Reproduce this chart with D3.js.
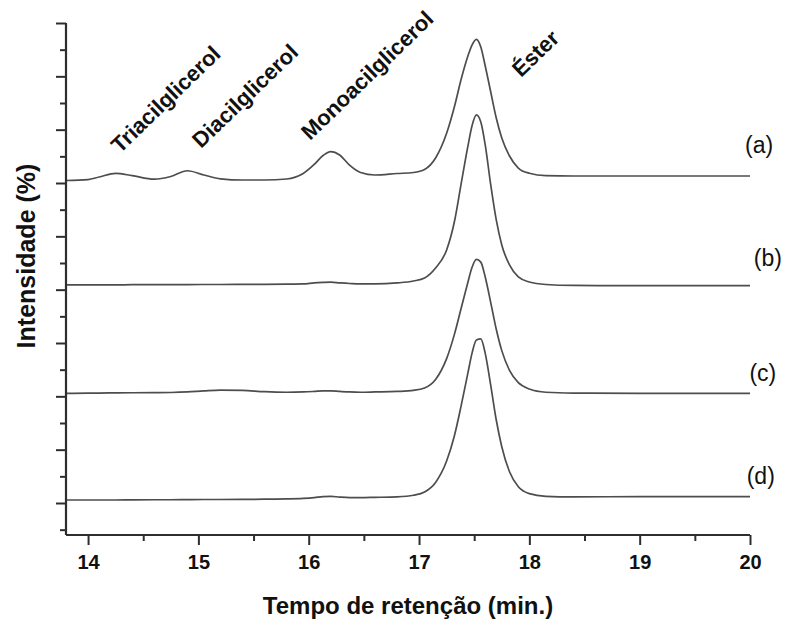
<!DOCTYPE html>
<html>
<head>
<meta charset="utf-8">
<script src="https://cdn.jsdelivr.net/npm/d3@7"></script>
<style>
  html, body { margin: 0; padding: 0; background: #fff; }
  svg { display: block; font-family: "Liberation Sans", Arial, sans-serif; }
</style>
</head>
<body>
<svg id="chart" width="786" height="621"></svg>
<script>
// Retention time grid (min)
const times = [13.8, 14.0, 14.1, 14.25, 14.4, 14.6, 14.75, 14.9, 15.05, 15.2, 15.4, 15.6, 15.8,
  15.95, 16.05, 16.13, 16.2, 16.28, 16.37, 16.47, 16.6, 16.8, 16.95, 17.05, 17.15, 17.25, 17.32,
  17.38, 17.44, 17.48, 17.52, 17.56, 17.6, 17.65, 17.7, 17.75, 17.82, 17.9, 18.0, 18.15, 18.4,
  19.0, 19.5, 20.0];

// Detector signal of each chromatogram above its own baseline
const signalA = [-0.09, 0.09, 0.56, 1.26, 0.81, 0.15, 0.66, 1.74, 0.94, 0.22, 0.0, 0.0, 0.19,
  1.22, 2.91, 4.59, 5.31, 4.69, 2.81, 1.41, 0.94, 1.22, 1.41, 1.97, 4.13, 8.76, 13.69,
  18.75, 23.06, 25.31, 26.38, 24.94, 21.38, 16.5, 11.63, 7.88, 4.5, 2.25, 1.26, 0.81, 0.75,
  0.75, 0.75, 0.75];
const signalB = [0, 0, 0, 0, 0.05, 0.05, 0.05, 0.08, 0.09, 0.09, 0.12, 0.13, 0.15,
  0.19, 0.38, 0.47, 0.52, 0.4, 0.28, 0.19, 0.19, 0.38, 0.75, 1.31, 3.19, 6.56, 11.81,
  18.75, 25.69, 29.81, 31.88, 30.56, 26.25, 18.75, 12.19, 7.5, 3.75, 1.5, 0.56, 0.09, -0.09,
  -0.13, -0.13, -0.13];
const signalC = [0, 0.05, 0.05, 0.08, 0.1, 0.12, 0.15, 0.25, 0.45, 0.6, 0.55, 0.3, 0.2,
  0.25, 0.35, 0.45, 0.45, 0.35, 0.25, 0.2, 0.25, 0.35, 0.55, 1.0, 2.6, 6.5, 11.0,
  15.8, 20.6, 23.6, 25.1, 24.6, 21.8, 17.0, 12.0, 8.0, 4.3, 2.0, 0.8, 0.2, 0.05,
  0, 0, 0];
const signalD = [0, 0, 0, 0, 0.03, 0.05, 0.05, 0.08, 0.1, 0.1, 0.12, 0.15, 0.2,
  0.3, 0.45, 0.65, 0.7, 0.55, 0.45, 0.45, 0.5, 0.6, 0.9, 1.5, 3.3, 7.3, 12.0,
  17.5, 23.5, 27.5, 30.0, 30.2, 27.5, 21.5, 15.0, 10.0, 5.3, 2.5, 1.2, 0.7, 0.6,
  0.62, 0.62, 0.62];

// Vertical offset of each stacked chromatogram
const offsets = [70.56, 50.88, 30.57, 10.56];
const traceNames = ["(a)", "(b)", "(c)", "(d)"];
const traceNameTimes = [19.955, 20.035, 19.995, 19.97];
const traceNameValues = [75.7, 54.4, 32.9, 13.6];

// Compound annotations
const peakNames = ["Triacilglicerol", "Diacilglicerol", "Monoacilglicerol", "Éster"];
const peakNameTimes = [14.289, 15.024, 16.012, 17.924];
const peakNameValues = [75.44, 76.38, 77.88, 89.69];

// Axis ticks
const xMajorTicks = [14, 15, 16, 17, 18, 19, 20];
const xMinorTicks = [14.5, 15.5, 16.5, 17.5, 18.5, 19.5];
const yMajorTicks = [10, 20, 30, 40, 50, 60, 70, 80, 90, 100];
const yMinorTicks = [5, 15, 25, 35, 45, 55, 65, 75, 85, 95];

const svg = d3.select("#chart");
const x = d3.scaleLinear().domain([13.8, 20]).range([66, 750]);
const y = d3.scaleLinear().domain([4, 100]).range([535, 23]);

const axisColor = "#2e2e2e";
const lineColor = "#4d4d4d";

// Chromatogram traces
const signals = [signalA, signalB, signalC, signalD];
const line = d3.line()
  .x(d => x(d.t))
  .y(d => y(d.v))
  .curve(d3.curveMonotoneX);

svg.append("g")
  .selectAll("path")
  .data(signals.map((s, i) => times.map((t, k) => ({ t, v: offsets[i] + s[k] }))))
  .join("path")
  .attr("d", line)
  .attr("fill", "none")
  .attr("stroke", lineColor)
  .attr("stroke-width", 1.7)
  .attr("stroke-linejoin", "round");

// X axis
const xAxis = svg.append("g").attr("transform", "translate(0,535)");
xAxis.call(d3.axisBottom(x).tickValues(xMajorTicks).tickSize(10).tickPadding(10).tickFormat(d3.format("d")));
xAxis.append("g").call(d3.axisBottom(x).tickValues(xMinorTicks).tickSize(6).tickFormat(""))
  .select(".domain").remove();
xAxis.selectAll(".domain").attr("stroke", axisColor).attr("stroke-width", 2.2)
  .attr("d", `M${x(13.8)},0H${x(20)}`);
xAxis.selectAll(".tick line").attr("stroke", axisColor).attr("stroke-width", 2);
xAxis.selectAll(".tick text")
  .attr("fill", "#111")
  .style("font-size", "20px")
  .style("font-weight", "bold")
  .style("font-family", "'Liberation Sans', Arial, sans-serif");

// Y axis (unlabelled ticks)
const yAxis = svg.append("g").attr("transform", "translate(66,0)");
yAxis.call(d3.axisLeft(y).tickValues(yMajorTicks).tickSize(10).tickFormat(""));
yAxis.append("g").call(d3.axisLeft(y).tickValues(yMinorTicks).tickSize(6).tickFormat(""))
  .select(".domain").remove();
yAxis.selectAll(".domain").attr("stroke", axisColor).attr("stroke-width", 2.2)
  .attr("d", `M0,${y(100)}V${y(4)}`);
yAxis.selectAll(".tick line").attr("stroke", axisColor).attr("stroke-width", 2);

// Axis titles
svg.append("text")
  .attr("x", 408).attr("y", 614)
  .attr("text-anchor", "middle")
  .attr("fill", "#111")
  .style("font-size", "24px")
  .style("font-weight", "bold")
  .text("Tempo de retenção (min.)");

svg.append("text")
  .attr("transform", "translate(35,256) rotate(-90)")
  .attr("text-anchor", "middle")
  .attr("fill", "#111")
  .style("font-size", "25px")
  .style("font-weight", "bold")
  .text("Intensidade (%)");

// Trace names
svg.append("g")
  .selectAll("text")
  .data(traceNames)
  .join("text")
  .attr("x", (d, i) => x(traceNameTimes[i]))
  .attr("y", (d, i) => y(traceNameValues[i]))
  .attr("fill", "#111")
  .style("font-size", "23px")
  .text(d => d);

// Compound labels along the peaks
svg.append("g")
  .selectAll("text")
  .data(peakNames)
  .join("text")
  .attr("transform", (d, i) => `translate(${x(peakNameTimes[i])},${y(peakNameValues[i])}) rotate(-44)`)
  .attr("fill", "#111")
  .style("font-size", "22px")
  .style("font-weight", "bold")
  .text(d => d);
</script>
</body>
</html>
